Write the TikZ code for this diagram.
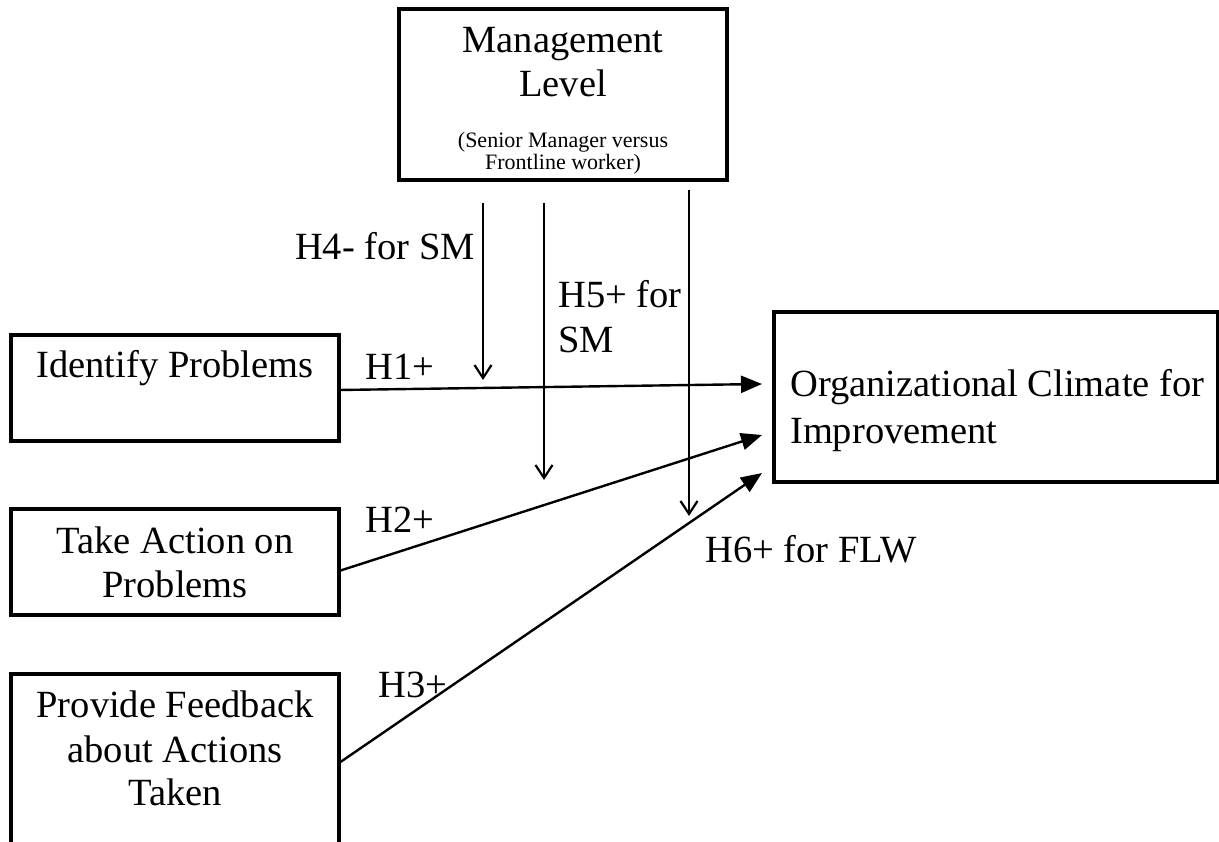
\documentclass[tikz,border=0pt]{standalone}
\usepackage{fontspec}
\setmainfont{Liberation Serif}
\usetikzlibrary{arrows.meta}
\begin{document}
\begin{tikzpicture}[x=1pt,y=-1pt,
  box/.style={draw,line width=3.2pt,inner sep=0pt,outer sep=0pt},
  big/.style={font=\fontsize{38.5}{44}\selectfont,inner sep=0pt},
  small/.style={font=\fontsize{22}{24}\selectfont,inner sep=0pt},
  harrow/.style={line width=2.4pt,-{Triangle[length=21pt,width=17pt]}},
  varrow/.style={line width=2.4pt,-{Straight Barb[length=13pt,width=17pt,line width=2.2pt]}}]
\useasboundingbox (0,0) rectangle (1219,842);
\begin{scope}
\clip (0,0) rectangle (1219,842);
% boxes
\node[box,minimum width=328pt,minimum height=171pt] (mgl) at (563,94.5) {};
\node[box,minimum width=444pt,minimum height=170pt] (ocl) at (996,397) {};
\node[box,minimum width=328pt,minimum height=106pt] (idp) at (175,388) {};
\node[box,minimum width=328pt,minimum height=106pt] (tap) at (175,562) {};
\node[box,minimum width=328pt,minimum height=196pt] (pfb) at (175,772) {};
\end{scope}
% box texts
\node[big,anchor=base] (mglt1) at (563,53) {Management};
\node[big,anchor=base] (mglt2) at (563,97) {Level};
\node[small,anchor=base] (mglt3) at (563,148) {(Senior Manager versus};
\node[small,anchor=base] (mglt4) at (563,170) {Frontline worker)};
\node[big,anchor=base west] (oclt1) at (790,397) {Organizational Climate for};
\node[big,anchor=base west] (oclt2) at (790,443) {Improvement};
\node[big,anchor=base] (idpt) at (175,378) {Identify Problems};
\node[big,anchor=base] (tapt1) at (175,553) {Take Action on};
\node[big,anchor=base] (tapt2) at (175,597) {Problems};
\node[big,anchor=base] (pfbt1) at (175,717) {Provide Feedback};
\node[big,anchor=base] (pfbt2) at (175,762) {about Actions};
\node[big,anchor=base] (pfbt3) at (175,805) {Taken};
% main arrows
\draw[harrow] ([yshift=-2pt]idp.east) -- ([xshift=-12pt,yshift=13pt]ocl.west);
\draw[harrow] ([yshift=-9pt]tap.east) -- ([xshift=-12pt,yshift=-38pt]ocl.west);
\draw[harrow] ([yshift=9pt]pfb.east) -- ([xshift=-12pt,yshift=-76pt]ocl.west);
% moderator arrows
\coordinate (e4) at (483,380);
\coordinate (e5) at (544,480);
\coordinate (e6) at (689,516);
\draw[varrow] ([xshift=-80pt,yshift=-23pt]mgl.south) -- (e4);
\draw[varrow] ([xshift=-19pt,yshift=-23pt]mgl.south) -- (e5);
\draw[varrow] ([xshift=126pt,yshift=-10pt]mgl.south) -- (e6);
% labels
\node[big,anchor=base west] (h1) at (365,380) {H1+};
\node[big,anchor=base west] (h2) at (365,532) {H2+};
\node[big,anchor=base west] (h3) at (378,697) {H3+};
\node[big,anchor=base west] (h4) at (295,260) {H4- for SM};
\node[big,anchor=base west] (h5a) at (558,308) {H5+ for};
\node[big,anchor=base west] (h5b) at (558,353) {SM};
\node[big,anchor=base west] (h6) at (705,562) {H6+ for FLW};
\end{tikzpicture}
\end{document}
